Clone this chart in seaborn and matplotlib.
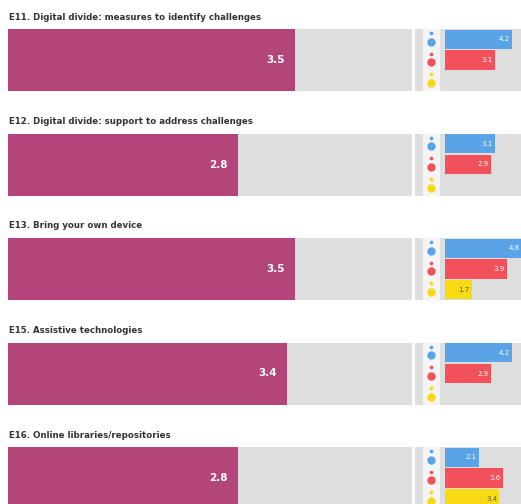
import matplotlib
matplotlib.use("Agg")
import matplotlib.pyplot as plt
import seaborn as sns
import pandas as pd

sns.set_theme(style="white")
plt.rcParams['font.family'] = ['DejaVu Sans']

## Data
titles = [
    "E11. Digital divide: measures to identify challenges",
    "E12. Digital divide: support to address challenges",
    "E13. Bring your own device",
    "E15. Assistive technologies",
    "E16. Online libraries/repositories",
]
overall = [3.5, 2.8, 3.5, 3.4, 2.8]
groups = ["blue", "red", "yellow"]
blue_vals = [4.2, 3.1, 4.8, 4.2, 2.1]
red_vals = [3.1, 2.9, 3.9, 2.9, 3.6]
yellow_vals = [0.0, 0.0, 1.7, 0.0, 3.4]

scale_max = 5
main_col = "#B4457A"
grey = "#DEDEDE"
pal = {"blue": "#5AA3E6", "red": "#F2515C", "yellow": "#F7DA12"}

W, H = 521, 504
fig = plt.figure(figsize=(W / 100, H / 100), dpi=100)

def fr(x0, y0, w, h):
    # pixel box -> figure fraction
    return [x0 / W, 1 - (y0 + h) / H, w / W, h / H]

for i, title in enumerate(titles):
    top = 29 + i * 104.5
    bh = 62

    # main bar
    ax = fig.add_axes(fr(8, top, 404, bh))
    d = pd.DataFrame({"k": [0], "v": [overall[i]]})
    sns.barplot(data=d, x="v", y="k", orient="h", color=main_col,
                width=1.0, saturation=1, linewidth=0, ax=ax)
    ax.set_xlim(0, scale_max * 0.985)
    ax.set_ylim(0.5, -0.5)
    ax.text(overall[i] - 0.12, 0, f"{overall[i]:.1f}", color="white",
            ha="right", va="center", fontsize=7.5, fontweight="bold")
    ax.axis("off")
    ax.add_patch(plt.Rectangle((0, 0), 1, 1, transform=ax.transAxes,
                               color=grey, zorder=-1))
    fig.text(9 / W, 1 - (top - 12) / H, title, fontsize=6.2,
             color="#333333", fontweight="bold", va="center", ha="left")

    # small group bars
    ax2 = fig.add_axes(fr(415, top, 115, bh))
    ax2.add_patch(plt.Rectangle((0, 0), 1, 1, transform=ax2.transAxes,
                                color=grey, zorder=-2))
    vals = [blue_vals[i], red_vals[i], yellow_vals[i]]
    d2 = pd.DataFrame({"g": groups, "v": vals})
    sns.barplot(data=d2, x="v", y="g", hue="g", palette=pal, orient="h",
                width=0.92, saturation=1, linewidth=0, legend=False, ax=ax2)
    ax2.set_xlim(-1.88, 5.31)
    ax2.set_ylim(2.5, -0.5)
    ax2.axvspan(-1.4, -0.3, color="#F4F4F4", zorder=-1, lw=0)
    for j, g in enumerate(groups):
        ax2.scatter([-0.9], [j + 0.12], s=36, color=pal[g], zorder=3,
                    linewidth=0)
        ax2.scatter([-0.9], [j - 0.3], s=7, color=pal[g], zorder=3,
                    linewidth=0)
        if vals[j] > 0:
            tc = "#555555" if g == "yellow" else "white"
            ax2.text(vals[j] - 0.15, j, f"{vals[j]:.1f}", color=tc,
                     ha="right", va="center", fontsize=5)
    ax2.axis("off")

fig.savefig("out.png", dpi=100, facecolor="white")
